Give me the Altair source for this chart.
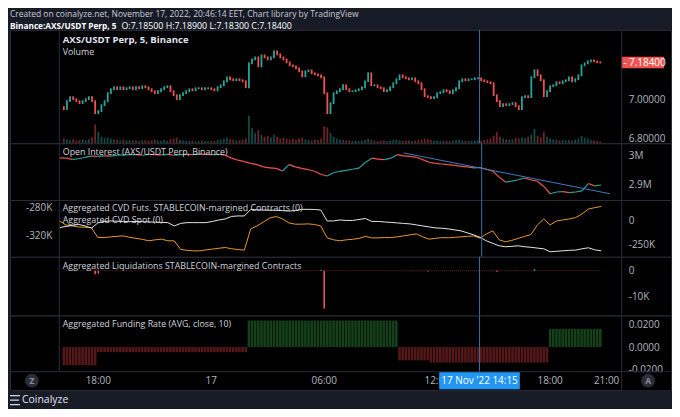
import altair as alt
import pandas as pd
import numpy as np

# ---------------- data ----------------
price_open0 = 6.96
price_close = [
    6.95, 6.99, 7.01, 7.00, 6.99, 6.98, 6.99, 7.00, 7.01, 6.99,
    6.93, 6.94, 6.97, 6.99, 7.03, 7.05, 7.06, 7.05, 7.06, 7.05,
    7.055, 7.06, 7.05, 7.06, 7.055, 7.065, 7.06, 7.05, 7.04, 7.03,
    7.04, 7.05, 7.06, 7.065, 7.04, 7.02, 7.00, 7.02, 7.03, 7.04,
    7.05, 7.045, 7.055, 7.055, 7.05, 7.055, 7.055, 7.05, 7.045, 7.06,
    7.07, 7.09, 7.11, 7.10, 7.095, 7.10, 7.095, 7.09, 7.06, 7.18,
    7.20, 7.21, 7.165, 7.22, 7.21, 7.20, 7.21, 7.24, 7.225, 7.21,
    7.20, 7.185, 7.17, 7.165, 7.155, 7.14, 7.115, 7.14, 7.145, 7.13,
    7.125, 7.12, 7.11, 7.03, 6.93, 6.98, 7.03, 7.04, 7.05, 7.07,
    7.05, 7.04, 7.04, 7.045, 7.05, 7.06, 7.09, 7.13, 7.07, 7.07,
    7.06, 7.055, 7.04, 7.045, 7.06, 7.08, 7.10, 7.12, 7.11, 7.105,
    7.10, 7.105, 7.09, 7.08, 7.05, 7.015, 7.01, 7.005, 7.01, 7.03,
    7.035, 7.045, 7.04, 7.03, 7.045, 7.055, 7.09, 7.10, 7.095, 7.10,
    7.10, 7.105, 7.105, 7.095, 7.09, 7.085, 7.08, 7.02, 6.99, 6.965,
    6.975, 6.97, 6.975, 6.98, 6.965, 6.95, 7.01, 7.015, 7.01, 7.11,
    7.145, 7.12, 7.095, 7.015, 7.04, 7.065, 7.07, 7.085, 7.08, 7.09,
    7.095, 7.11, 7.09, 7.10, 7.12, 7.17, 7.18, 7.19, 7.195, 7.19,
    7.185, 7.184,
]
volume_k = [
    25, 20, 18, 22, 15, 18, 20, 16, 22, 30,
    100, 60, 35, 28, 30, 25, 20, 18, 15, 20,
    15, 18, 14, 16, 12, 15, 18, 14, 16, 20,
    15, 12, 18, 14, 22, 25, 30, 18, 15, 14,
    12, 14, 10, 12, 15, 12, 10, 14, 12, 18,
    20, 25, 30, 22, 18, 15, 16, 20, 25, 145,
    80, 55, 70, 45, 35, 40, 30, 45, 35, 25,
    30, 25, 20, 22, 18, 25, 30, 20, 18, 15,
    20, 18, 25, 90, 85, 55, 35, 25, 20, 18,
    15, 14, 12, 15, 12, 14, 18, 25, 20, 15,
    12, 14, 15, 12, 14, 18, 20, 15, 12, 14,
    15, 12, 14, 18, 20, 25, 22, 18, 15, 14,
    12, 15, 14, 12, 15, 18, 20, 15, 14, 12,
    14, 15, 16, 14, 18, 20, 25, 40, 60, 35,
    25, 20, 18, 22, 30, 25, 30, 25, 35, 45,
    75, 40, 30, 60, 35, 25, 20, 18, 15, 18,
    15, 18, 14, 20, 25, 38, 30, 25, 18, 15,
    12, 10,
]
oi_m = [
    2.991, 2.990, 2.986, 2.988, 2.993, 2.997, 2.996, 2.998, 2.997, 3.000,
    3.001, 3.002, 3.002, 3.000, 3.003, 3.002, 3.001, 3.003, 3.000, 3.002,
    3.003, 3.002, 3.004, 3.003, 3.002, 3.003, 3.000, 2.990, 2.983, 2.978,
    2.972, 2.968, 2.960, 2.957, 2.955, 2.946, 2.968, 2.960, 2.955, 2.951,
    2.945, 2.935, 2.929, 2.940, 2.945, 2.948, 2.952, 2.956, 2.975, 2.990,
    2.987, 2.985, 2.990, 3.002, 2.998, 2.996, 2.993, 2.985, 2.976, 2.972,
    2.970, 2.968, 2.965, 2.962, 2.960, 2.957, 2.958, 2.952, 2.945, 2.925,
    2.908, 2.911, 2.916, 2.922, 2.915, 2.911, 2.893, 2.868, 2.874, 2.875,
    2.872, 2.874, 2.878, 2.903, 2.895, 2.898,
]
cvd_futs_k = [
    -7, -48, -58, -68, -71, -75, -176, -176, -169, -164,
    -159, -174, -184, -194, -209, -199, -192, -209, -209, -296,
    -306, -311, -311, -301, -293, -285, -277, -290, -298, -304,
    -88, -58, -17, 23, 38, 13, -27, -40, -40, -37,
    -43, -58, -179, -199, -209, -199, -194, -184, -164, -179,
    -179, -176, -176, -169, -159, -149, -139, -169, -192, -184,
    -176, -179, -174, -169, -164, -159, -182, -139, -108, -199,
    -220, -204, -184, -164, -144, -48, 13, -48, -7, 3,
    13, 28, 64, 114, 128, 140,
]
cvd_spot_k = [
    -308.3, -306.6, -305.2, -303.7, -305.9, -309.1, -301.6, -299.5, -298.8, -299.2,
    -299.5, -299.9, -299.5, -299.8, -300.2, -300.5, -300.9, -301.2, -305.9, -302.3,
    -301.2, -301.2, -301.2, -301.2, -299.5, -297.4, -296.0, -292.4, -291.7, -291.7,
    -282.5, -283.0, -283.3, -283.5, -283.7, -284.2, -284.7, -284.0, -282.3, -282.3,
    -282.5, -283.3, -298.8, -298.8, -297.4, -298.1, -298.1, -296.7, -295.3, -299.5,
    -299.5, -300.2, -300.9, -301.6, -302.3, -303.0, -304.4, -305.9, -307.3, -308.7,
    -309.1, -310.1, -311.5, -312.9, -315.7, -318.6, -322.1, -327.1, -330.6, -334.1,
    -335.5, -334.8, -334.1, -335.5, -336.2, -337.4, -338.4, -342.6, -341.9, -341.2,
    -340.5, -340.2, -338.4, -336.9, -339.8, -341.2,
]
liq_idx = [10, 11, 82, 83, 116, 138, 150]
liq_k = [-1.4, -1.1, 0.4, -14.8, -0.3, -0.4, 0.6]
fund_start_idx = [0, 11, 59, 107, 117, 155]
fund_vals = [-0.0163, -0.0045, 0.0238, -0.0119, -0.0139, 0.0164]
trend_times = ["2022-11-17 10:10", "2022-11-17 20:58"]
trend_vals = [3.008, 2.868]
crosshair_time = "2022-11-17 14:15"
crosshair_label = "17 Nov '22   14:15"
x_tick_times = ["2022-11-16 18:00", "2022-11-17 00:00", "2022-11-17 06:00",
                "2022-11-17 12:00", "2022-11-17 18:00", "2022-11-17 21:00"]
x_tick_labels = ["18:00", "17", "06:00", "12:00", "18:00", "21:00"]
header = "Created on coinalyze.net, November 17, 2022, 20:46:14 EET, Chart library by TradingView"
sub_symbol = "Binance:AXS/USDT Perp, 5"
sub_ohlc = "O:7.18500 H:7.18900 L:7.18300 C:7.18400"
panel_titles = {
    "price": "AXS/USDT Perp, 5, Binance",
    "volume": "Volume",
    "oi": "Open Interest (AXS/USDT Perp, Binance)",
    "cvd1": "Aggregated CVD Futs. STABLECOIN-margined Contracts (0)",
    "cvd2": "Aggregated CVD Spot (0)",
    "liq": "Aggregated Liquidations STABLECOIN-margined Contracts",
    "fund": "Aggregated Funding Rate (AVG, close, 10)",
}
footer = "Coinalyze"

# ---------------- style ----------------
FONT = "Open Sans"
BG = "#171b26"
SEP = "#2a2e39"
UP = "#26a69a"
DOWN = "#ef5350"
TXT = "#d1d4dc"
AXC = "#b2b5be"
W = 664
H_PRICE, H_OI, H_CVD, H_LIQ, H_FUND = 114, 57, 57, 59, 75
RX = 614.5      # right price-scale separator
LX = 49.5       # left separator
AXOFF = -47     # right axis pulled inside the black panel

XS = alt.Scale(domain=[alt.DateTime(year=2022, month=11, date=16, hours=13, minutes=34, seconds=23),
                       alt.DateTime(year=2022, month=11, date=18, hours=0, minutes=9, seconds=23)])
dircol = alt.Color("dir:N", scale=alt.Scale(domain=["up", "down"], range=[UP, DOWN]), legend=None)
one = pd.DataFrame({"a": [0]})


def xenc(field="t", axis=None):
    return alt.X(f"{field}:T", scale=XS, axis=axis, title=None)


def rax(values, expr, orient="right", offset=AXOFF):
    return alt.Axis(orient=orient, offset=offset, values=values, labelExpr=expr, title=None,
                    domain=False, ticks=False, grid=False, labelPadding=4,
                    labelColor=AXC, labelFont=FONT, labelFontSize=10)


def label(text, x, y, size=8.9, weight="normal", color=TXT, align="left", baseline="middle"):
    return alt.Chart(pd.DataFrame({"s": [text]})).mark_text(
        align=align, baseline=baseline, fontSize=size, fontWeight=weight, color=color, font=FONT
    ).encode(x=alt.value(x), y=alt.value(y), text="s:N")


def vrule(x, y0, y1, color=SEP):
    return alt.Chart(one).mark_rule(color=color, strokeWidth=1).encode(
        x=alt.value(x), y=alt.value(y0), y2=alt.value(y1))


def hrule(y, x0, x1, color="#d1d4dc", width=1.3):
    return alt.Chart(one).mark_rule(color=color, strokeWidth=width).encode(
        x=alt.value(x0), x2=alt.value(x1), y=alt.value(y))


cross_df = pd.DataFrame({"t": pd.to_datetime([crosshair_time]), "s": [crosshair_label]})
crossrule = alt.Chart(cross_df).mark_rule(color="#3a6ea8", strokeWidth=1).encode(x=xenc())

t10 = pd.date_range("2022-11-16 16:10", periods=len(price_close), freq="10min")
t20 = pd.date_range("2022-11-16 16:10", periods=len(oi_m), freq="20min")

# ---------------- price panel ----------------
pdf = pd.DataFrame({"t": t10, "open": [price_open0] + price_close[:-1], "close": price_close, "vol": volume_k})
pdf["dir"] = np.where(pdf["close"] >= pdf["open"], "up", "down")
PS = alt.Scale(domain=[6.7785, 7.3485], nice=False, zero=False)
PAX = rax([6.8, 7.0], "format(datum.value, '.5f')")
candles = alt.Chart(pdf).mark_rule(strokeWidth=1.8, strokeCap="square").encode(
    x=xenc(), y=alt.Y("open:Q", scale=PS, axis=PAX), y2="close:Q", color=dircol)
last_df = pd.DataFrame({"p": [price_close[-1]], "s": ["- " + format(price_close[-1], ".5f")]})
lbox = alt.Chart(last_df).mark_point(
    shape="M-1,-0.27L1,-0.27L1,0.27L-1,0.27Z", size=43 * 43, filled=True, opacity=1,
    color="#ef5350", strokeWidth=0).encode(x=alt.value(635.5), y=alt.Y("p:Q", scale=PS, axis=PAX))
ltxt = alt.Chart(last_df).mark_text(align="left", baseline="middle", color="white", fontSize=10,
                                    font=FONT).encode(x=alt.value(616), y=alt.Y("p:Q", scale=PS, axis=PAX),
                                                      text="s:N")
vol = alt.Chart(pdf).mark_bar(width=1.8, opacity=0.45).encode(
    x=xenc(), y=alt.Y("vol:Q", scale=alt.Scale(domain=[0, 600]), axis=None), color=dircol)
price_panel = alt.layer(
    vol, alt.layer(candles, lbox, ltxt), crossrule,
    vrule(LX, 0, H_PRICE), vrule(RX, 0, H_PRICE),
    label(panel_titles["price"], 53, 10, size=9.6, weight="bold", color="#e0e3eb"),
    label(panel_titles["volume"], 53, 22),
    # header lines above the panels
    label(header, 0, -20, size=8.5, color="#c8cbd3", baseline="top"),
    label(sub_symbol, 0, -7.5, size=8.3, weight="bold", color="#ffffff", baseline="top"),
    label(sub_ohlc, 112, -7.5, size=8.9, color="#ffffff", baseline="top"),
).resolve_scale(y="independent").properties(width=W, height=H_PRICE)

# ---------------- open interest ----------------
odf = pd.DataFrame({"t": t20, "v": oi_m})
odf["t0"] = odf["t"].shift(1)
odf["v0"] = odf["v"].shift(1)
odf = odf.dropna()
odf["dir"] = np.where(odf["v"] >= odf["v0"], "up", "down")
OS = alt.Scale(domain=[2.8464, 3.041], nice=False, zero=False)
OAX = rax([2.9, 3.0], "format(datum.value, '.1~f') + 'M'")
oi_seg = alt.Chart(odf).mark_rule(strokeWidth=1.2).encode(
    x=xenc("t0"), x2="t:T", y=alt.Y("v0:Q", scale=OS, axis=OAX), y2="v:Q", color=dircol)
tdf = pd.DataFrame({"t": pd.to_datetime(trend_times), "v": trend_vals})
trend = alt.Chart(tdf).mark_line(color="#3f7bc4", strokeWidth=1).encode(
    x=xenc(), y=alt.Y("v:Q", scale=OS, axis=OAX))
oi_panel = alt.layer(
    oi_seg, trend, crossrule, vrule(LX, 0, H_OI), vrule(RX, 0, H_OI),
    label(panel_titles["oi"], 53, 9),
).properties(width=W, height=H_OI)

# ---------------- CVD ----------------
cdf = pd.DataFrame({"t": t20, "futs": cvd_futs_k, "spot": cvd_spot_k})
futs = alt.Chart(cdf).mark_line(color="#e8982e", strokeWidth=1).encode(
    x=xenc(), y=alt.Y("futs:Q", scale=alt.Scale(domain=[-371.4, 205.5], nice=False, zero=False),
                      axis=rax([0, -250], "datum.value == 0 ? '0' : '-' + format(abs(datum.value), 'd') + 'K'")))
spot = alt.Chart(cdf).mark_line(color="#e6e6e6", strokeWidth=1).encode(
    x=xenc(), y=alt.Y("spot:Q", scale=alt.Scale(domain=[-349.7, -269.1], nice=False, zero=False),
                      axis=rax([-280, -320], "'-' + format(abs(datum.value), 'd') + 'K'",
                               orient="left", offset=-46)))
cvd_panel = alt.layer(
    futs, spot, crossrule, vrule(LX, 0, H_CVD), vrule(RX, 0, H_CVD),
    label(panel_titles["cvd1"], 53, 8.5), label(panel_titles["cvd2"], 53, 20),
).resolve_scale(y="independent").properties(width=W, height=H_CVD)

# ---------------- liquidations ----------------
LS = alt.Scale(domain=[-17.51, 5.45], nice=False, zero=False)
LAX = rax([0, -10], "datum.value == 0 ? '0' : '-' + format(abs(datum.value), 'd') + 'K'")
ldf = pd.DataFrame({"t": t10[liq_idx], "v": liq_k})
ldf["dir"] = np.where(ldf["v"] >= 0, "up", "down")
liq_bars = alt.Chart(ldf).mark_bar(width=1.6).encode(x=xenc(), y=alt.Y("v:Q", scale=LS, axis=LAX), color=dircol)
base_df = pd.DataFrame({"t": [t10[0]], "t1": [t10[-1]], "v": [0.0]})
liq_base = alt.Chart(base_df).mark_rule(color="#5e2626", strokeWidth=1, strokeDash=[1, 1]).encode(
    x=xenc(), x2="t1:T", y=alt.Y("v:Q", scale=LS, axis=LAX))
liq_panel = alt.layer(
    liq_base, liq_bars, crossrule, vrule(LX, 0, H_LIQ), vrule(RX, 0, H_LIQ),
    label(panel_titles["liq"], 53, 9),
).properties(width=W, height=H_LIQ)

# ---------------- funding + time scale + footer ----------------
fvals = []
bounds = fund_start_idx + [len(price_close)]
for s, e, v in zip(bounds[:-1], bounds[1:], fund_vals):
    fvals += [v] * (e - s)
fdf = pd.DataFrame({"t": t10, "v": fvals})
fdf["c"] = np.where(fdf["v"] >= 0, "#15401a", "#541818")
FS = alt.Scale(domain=[-0.03866, 0.0283], nice=False, zero=False)
FAX = rax([-0.02, 0, 0.02], "(datum.value < 0 ? '-' : '') + format(abs(datum.value), '.4f')")
fund_bars = alt.Chart(fdf).mark_bar(width=2.6).encode(
    x=xenc(), y=alt.Y("v:Q", scale=FS, axis=FAX), color=alt.Color("c:N", scale=None, legend=None))
tick_df = pd.DataFrame({"t": pd.to_datetime(x_tick_times), "s": x_tick_labels})
tick_txt = alt.Chart(tick_df).mark_text(align="center", baseline="middle", color=AXC, fontSize=10,
                                        font=FONT).encode(x=xenc(), y=alt.value(66), text="s:N")
cover = alt.Chart(one).mark_rect(color="#000000").encode(
    x=alt.value(615), x2=alt.value(W), y=alt.value(57), y2=alt.value(H_FUND))
cbox = alt.Chart(cross_df).mark_point(
    shape="M-1,-0.21L1,-0.21L1,0.21L-1,0.21Z", size=81 * 81, filled=True, opacity=1,
    color="#2196f3", strokeWidth=0).encode(x=xenc(), y=alt.value(65.5))
ctxt = alt.Chart(cross_df).mark_text(align="center", baseline="middle", color="white", fontSize=10,
                                     font=FONT).encode(x=xenc(), y=alt.value(65.5), text="s:N")


def badge(ch, x):
    c = alt.Chart(one).mark_circle(size=190, color="#2a2e39", opacity=1).encode(
        x=alt.value(x), y=alt.value(65.5))
    return alt.layer(c, label(ch, x, 65.5, size=8.5, weight="bold", color="#8a8d96", align="center"))


fund_panel = alt.layer(
    fund_bars, crossrule.encode(y=alt.value(0), y2=alt.value(57)), vrule(LX, 0, 56),
    hrule(56.5, 0, W, color=SEP, width=1), tick_txt,
    cover, vrule(RX, 0, H_FUND), cbox, ctxt, badge("Z", 22), badge("A", 641),
    label(panel_titles["fund"], 53, 8.5),
    hrule(80.5, 0, 10), hrule(85, 0, 9), hrule(89.5, 0, 10),
    label(footer, 12, 85, size=10.5, color="#e0e3eb"),
).properties(width=W, height=H_FUND)

chart = alt.vconcat(
    price_panel, oi_panel, cvd_panel, liq_panel, fund_panel, spacing=0, bounds="flush"
).properties(
    padding={"left": 0, "top": 0, "right": 0, "bottom": 2},
    background=BG,
).configure_view(stroke=SEP, strokeWidth=1, fill="#000000").configure_axis(grid=False)

chart.save("out.html", embed_options={"renderer": "svg", "actions": False})
